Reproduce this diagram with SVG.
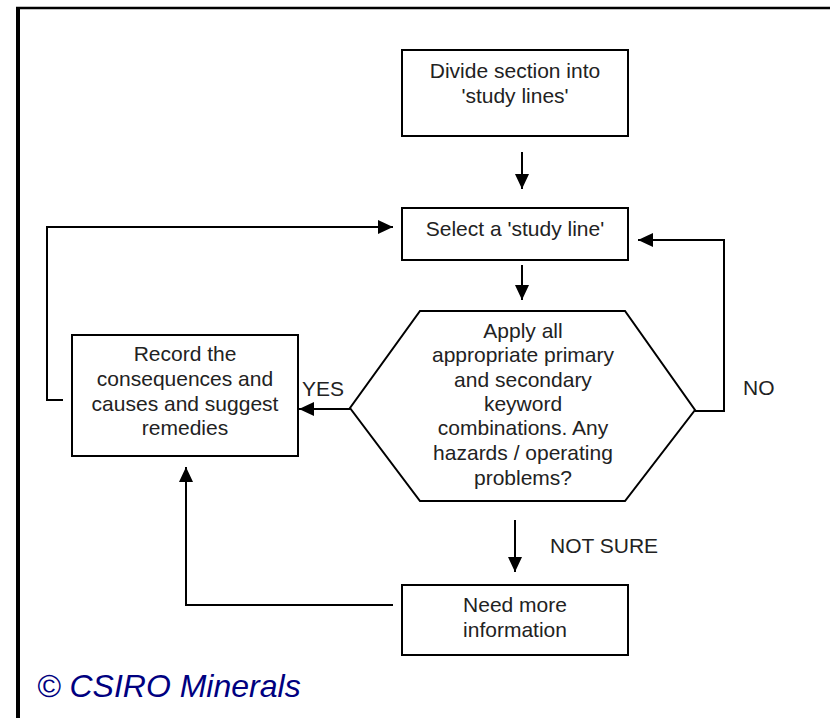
<svg xmlns="http://www.w3.org/2000/svg" width="830" height="718" viewBox="0 0 830 718">
<defs>
<marker id="ah" viewBox="0 0 15 14" refX="15" refY="7" markerWidth="15" markerHeight="14" markerUnits="userSpaceOnUse" orient="auto">
<path d="M0,0 L15,7 L0,14 Z" fill="#000"/>
</marker>
<style>
.box{fill:#fff;stroke:#000;stroke-width:2}
.t{font-family:"Liberation Sans",Arial,sans-serif;font-size:21px;fill:#222;text-anchor:middle}
.l{font-family:"Liberation Sans",Arial,sans-serif;font-size:21px;fill:#222}
.c{fill:none;stroke:#000;stroke-width:2}
.ca{fill:none;stroke:#000;stroke-width:2;marker-end:url(#ah)}
</style>
</defs>
<rect width="830" height="718" fill="#fff"/>
<g id="frame">
<line x1="16" y1="8" x2="830" y2="8" stroke="#000" stroke-width="2.5"/>
<line x1="18" y1="7" x2="18" y2="718" stroke="#000" stroke-width="4"/>
</g>
<g id="connectors">
<line class="ca" x1="522" y1="152" x2="522" y2="189"/>
<line class="ca" x1="522" y1="265" x2="522" y2="300"/>
<line class="ca" x1="350" y1="409" x2="299" y2="409"/>
<polyline class="ca" points="695,411 724,411 724,240 638,240"/>
<polyline class="ca" points="63,400 47,400 47,227 393,227"/>
<line class="ca" x1="515" y1="520" x2="515" y2="572"/>
<polyline class="ca" points="393,605 186,605 186,467"/>
</g>
<g id="n1">
<rect class="box" x="402" y="50" width="226" height="86"/>
<text class="t" x="515" y="78">Divide section into</text>
<text class="t" x="515" y="103">'study lines'</text>
</g>
<g id="n2">
<rect class="box" x="402" y="208" width="226" height="52"/>
<text class="t" x="515" y="236">Select a 'study line'</text>
</g>
<g id="n3">
<polygon class="box" points="420,311 625,311 695,410 625,501 420,501 350,408"/>
<text class="t" x="523" y="338">Apply all</text>
<text class="t" x="523" y="362">appropriate primary</text>
<text class="t" x="523" y="387">and secondary</text>
<text class="t" x="523" y="411">keyword</text>
<text class="t" x="523" y="435">combinations. Any</text>
<text class="t" x="523" y="460">hazards / operating</text>
<text class="t" x="523" y="485">problems?</text>
</g>
<g id="n4">
<rect class="box" x="72" y="335" width="226" height="121"/>
<text class="t" x="185" y="361">Record the</text>
<text class="t" x="185" y="386">consequences and</text>
<text class="t" x="185" y="411">causes and suggest</text>
<text class="t" x="185" y="435">remedies</text>
</g>
<g id="n5">
<rect class="box" x="402" y="585" width="226" height="70"/>
<text class="t" x="515" y="612">Need more</text>
<text class="t" x="515" y="637">information</text>
</g>
<g id="labels">
<text class="l" x="302" y="396">YES</text>
<text class="l" x="743" y="395">NO</text>
<text class="l" x="550" y="553">NOT SURE</text>
<text x="37" y="697" font-family="'Liberation Sans',Arial,sans-serif" font-size="32" font-style="italic" fill="#000080">© CSIRO Minerals</text>
</g>
</svg>
